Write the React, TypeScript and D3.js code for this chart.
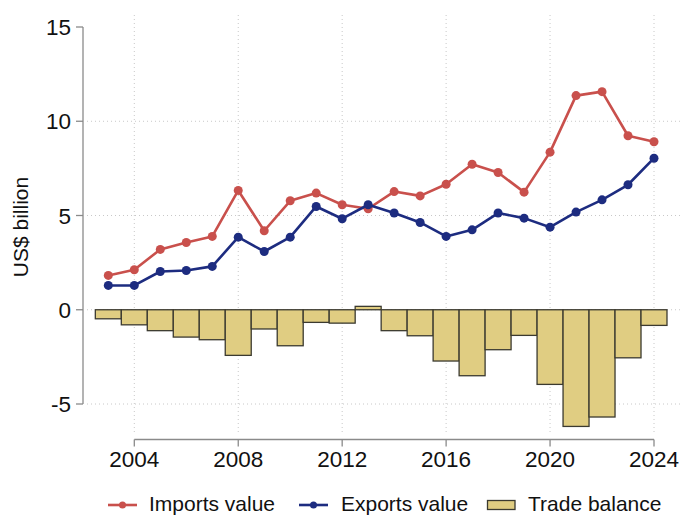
import React, { useEffect } from "react";
import * as d3 from "d3";

const years = [2003, 2004, 2005, 2006, 2007, 2008, 2009, 2010, 2011, 2012, 2013, 2014, 2015, 2016, 2017, 2018, 2019, 2020, 2021, 2022, 2023, 2024];
const imports = [1.82, 2.12, 3.2, 3.57, 3.89, 6.33, 4.19, 5.78, 6.19, 5.57, 5.36, 6.27, 6.04, 6.66, 7.72, 7.28, 6.24, 8.36, 11.36, 11.57, 9.23, 8.91];
const exports_ = [1.29, 1.29, 2.03, 2.08, 2.3, 3.85, 3.09, 3.85, 5.48, 4.83, 5.57, 5.13, 4.63, 3.89, 4.24, 5.13, 4.86, 4.38, 5.18, 5.83, 6.63, 8.04];
const balance = [-0.48, -0.8, -1.11, -1.45, -1.59, -2.42, -1.02, -1.91, -0.67, -0.71, 0.18, -1.11, -1.38, -2.72, -3.5, -2.12, -1.36, -3.96, -6.19, -5.69, -2.55, -0.83];
const xTicks = [2004, 2008, 2012, 2016, 2020, 2024];
const yTicks = [15, 10, 5, 0, -5];
const yGrid = [10, 5, 0, -5];
const seriesNames = ["Imports value", "Exports value", "Trade balance"];

const RED = "#c9504c";
const BLUE = "#1d2c80";
const BAR = "#e0cd82";
const BAR_STROKE = "#3b3a30";
const AXIS = "#8a8a8a";
const GRID = "#c8c8c8";
const FONT = "'Liberation Sans', Arial, Helvetica, sans-serif";

export default function App() {
  useEffect(() => {
    document.body.style.margin = "0";
  }, []);

  const x = d3.scaleLinear().domain([2004, 2024]).range([134.3, 654]);
  const y = d3.scaleLinear().domain([-5, 15]).range([404, 27]);
  const bw = x(2005) - x(2004);

  const line = d3
    .line<number>()
    .x((_, i) => x(years[i]))
    .y((d) => y(d));

  return (
    <svg width={681} height={515} style={{ position: "absolute", left: 0, top: 0, display: "block" }} fontFamily={FONT}>
      <rect width={681} height={515} fill="#fff" />
      {/* grid */}
      {yGrid.map((t) => (
        <line key={"gy" + t} x1={87} x2={680} y1={y(t)} y2={y(t)} stroke={GRID} strokeWidth={1} strokeDasharray="1,3" />
      ))}
      {xTicks.map((t) => (
        <line key={"gx" + t} x1={x(t)} x2={x(t)} y1={15} y2={435} stroke={GRID} strokeWidth={1} strokeDasharray="1,3" />
      ))}
      {/* bars */}
      {balance.map((v, i) => (
        <rect
          key={"b" + i}
          x={x(years[i]) - bw / 2}
          width={bw}
          y={Math.min(y(v), y(0))}
          height={Math.abs(y(v) - y(0))}
          fill={BAR}
          stroke={BAR_STROKE}
          strokeWidth={1.3}
        />
      ))}
      {/* lines */}
      <path d={line(imports) || ""} fill="none" stroke={RED} strokeWidth={2.6} strokeLinejoin="round" />
      {imports.map((v, i) => (
        <circle key={"ri" + i} cx={x(years[i])} cy={y(v)} r={4.5} fill={RED} />
      ))}
      <path d={line(exports_) || ""} fill="none" stroke={BLUE} strokeWidth={2.6} strokeLinejoin="round" />
      {exports_.map((v, i) => (
        <circle key={"bi" + i} cx={x(years[i])} cy={y(v)} r={4.5} fill={BLUE} />
      ))}
      {/* y axis */}
      <line x1={83} x2={83} y1={y(15)} y2={y(-5)} stroke={AXIS} strokeWidth={1.3} />
      {yTicks.map((t) => (
        <g key={"yt" + t}>
          <line x1={76} x2={83} y1={y(t)} y2={y(t)} stroke={AXIS} strokeWidth={1.3} />
          <text x={71} y={y(t)} dy="0.36em" textAnchor="end" fontSize={22.5} fill="#111">
            {t}
          </text>
        </g>
      ))}
      <text transform={`translate(28,227) rotate(-90)`} textAnchor="middle" fontSize={21} fill="#111">
        US$ billion
      </text>
      {/* x axis */}
      <line x1={x(2004)} x2={x(2024)} y1={439.5} y2={439.5} stroke={AXIS} strokeWidth={1.3} />
      {xTicks.map((t) => (
        <g key={"xt" + t}>
          <line x1={x(t)} x2={x(t)} y1={439.5} y2={446.5} stroke={AXIS} strokeWidth={1.3} />
          <text x={x(t)} y={467} textAnchor="middle" fontSize={22.5} fill="#111">
            {t}
          </text>
        </g>
      ))}
      {/* legend */}
      <g>
        <line x1={108} x2={137} y1={505} y2={505} stroke={RED} strokeWidth={2.6} />
        <circle cx={122.5} cy={505} r={3.5} fill={RED} />
        <text x={149} y={510.5} fontSize={21} fill="#111">{seriesNames[0]}</text>
        <line x1={299} x2={328} y1={505} y2={505} stroke={BLUE} strokeWidth={2.6} />
        <circle cx={313.5} cy={505} r={3.5} fill={BLUE} />
        <text x={341} y={510.5} fontSize={21} fill="#111">{seriesNames[1]}</text>
        <rect x={487.5} y={500.5} width={27.5} height={9} fill={BAR} stroke={BAR_STROKE} strokeWidth={1.3} />
        <text x={528} y={510.5} fontSize={21} fill="#111">{seriesNames[2]}</text>
      </g>
    </svg>
  );
}
